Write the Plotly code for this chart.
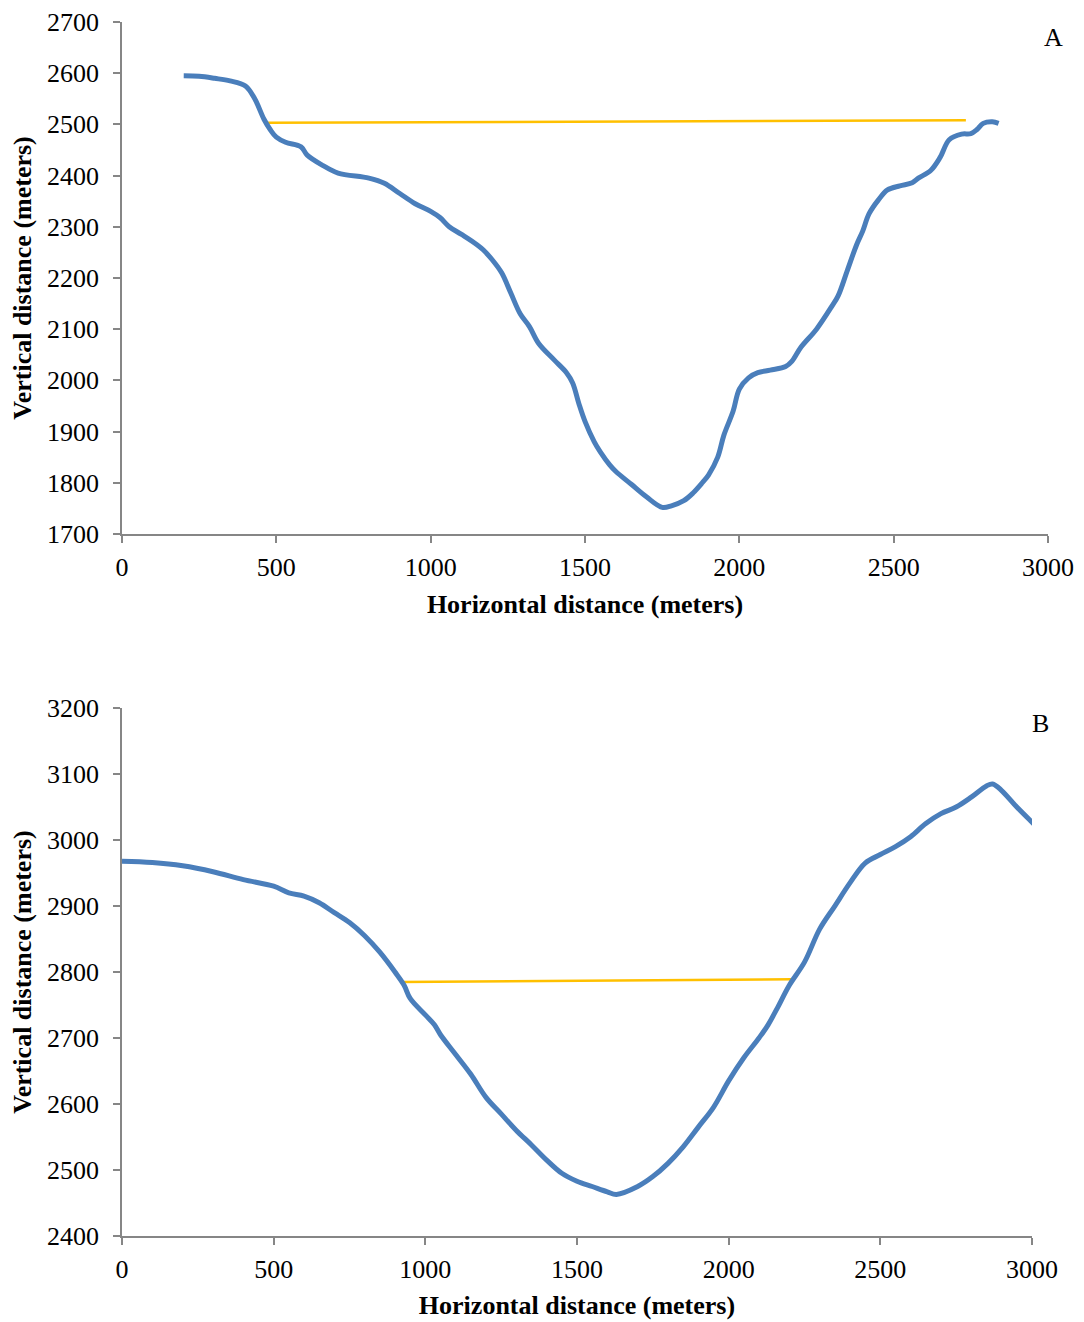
import plotly.graph_objects as go

# Panel A profile
a_x = [200, 250, 300, 350, 400, 430, 460, 480, 500, 530, 580, 600, 650, 700, 800, 850, 900, 950,
       1000, 1030, 1060, 1100, 1150, 1170, 1200, 1230, 1260, 1290, 1320, 1350, 1400, 1440, 1460,
       1480, 1500, 1530, 1550, 1580, 1600, 1650, 1700, 1750, 1780, 1820, 1850, 1880, 1900, 1930,
       1950, 1980, 2000, 2030, 2060, 2100, 2150, 2170, 2200, 2250, 2300, 2320, 2350, 2380, 2400,
       2420, 2450, 2480, 2520, 2560, 2580, 2620, 2650, 2680, 2720, 2750, 2770, 2790, 2820, 2840]
a_y = [2595, 2594, 2590, 2585, 2575, 2550, 2510, 2490, 2475, 2465, 2456, 2440, 2420, 2405, 2395,
       2385, 2365, 2345, 2330, 2318, 2300, 2285, 2265, 2255, 2235, 2210, 2170, 2130, 2105, 2072,
       2040, 2015, 1995, 1955, 1920, 1880, 1860, 1835, 1822, 1797, 1772, 1752, 1755, 1765, 1780,
       1800, 1815, 1850, 1893, 1940, 1983, 2005, 2015, 2020, 2027, 2037, 2065, 2100, 2145, 2165,
       2215, 2265, 2292, 2325, 2352, 2372, 2380, 2386, 2395, 2410, 2435, 2470, 2481, 2482, 2490,
       2502, 2505, 2502]
a_level_x = [473, 2734]
a_level_y = [2503, 2508]

# Panel B profile
b_x = [0, 100, 200, 300, 400, 500, 550, 600, 650, 700, 750, 800, 850, 900, 930, 950, 1000, 1030,
       1050, 1100, 1150, 1200, 1250, 1300, 1350, 1400, 1450, 1500, 1550, 1600, 1630, 1700, 1750,
       1800, 1850, 1900, 1950, 2000, 2050, 2100, 2130, 2160, 2200, 2250, 2300, 2350, 2400, 2450,
       2500, 2550, 2600, 2650, 2700, 2750, 2800, 2850, 2870, 2900, 2950, 3007]
b_y = [2968, 2966, 2961, 2952, 2940, 2930, 2920, 2915, 2905, 2890, 2875, 2855, 2830, 2800, 2780,
       2760, 2735, 2720, 2705, 2675, 2645, 2610, 2585, 2560, 2538, 2515, 2495, 2483, 2475, 2467,
       2463, 2475, 2490, 2510, 2535, 2565, 2595, 2635, 2670, 2700, 2720, 2745, 2780, 2815, 2865,
       2900, 2935, 2965, 2978, 2990, 3005, 3025, 3040, 3050, 3065, 3082, 3085, 3075, 3050, 3024]
b_level_x = [917, 2209]
b_level_y = [2785, 2789]

BLUE = "#4a7ebb"
ORANGE = "#ffc000"
GRAY = "#868686"
FONT = "Liberation Serif, Times New Roman, serif"

fig = go.Figure()
fig.add_trace(go.Scatter(x=a_level_x, y=a_level_y, mode="lines",
                         line=dict(color=ORANGE, width=2.5), xaxis="x", yaxis="y", showlegend=False))
fig.add_trace(go.Scatter(x=a_x, y=a_y, mode="lines", line=dict(color=BLUE, width=5, shape="spline", smoothing=1.0),
                         xaxis="x", yaxis="y", showlegend=False))
fig.add_trace(go.Scatter(x=b_level_x, y=b_level_y, mode="lines",
                         line=dict(color=ORANGE, width=2.5), xaxis="x2", yaxis="y2", showlegend=False))
fig.add_trace(go.Scatter(x=b_x, y=b_y, mode="lines", line=dict(color=BLUE, width=5, shape="spline", smoothing=1.0),
                         xaxis="x2", yaxis="y2", showlegend=False))

tick_font = dict(family=FONT, size=26, color="black")
title_font = dict(family=FONT, size=26, color="black")
axis_common = dict(showline=True, linecolor=GRAY, linewidth=1.5, ticks="outside", ticklen=7,
                   tickwidth=1.5, tickcolor=GRAY, showgrid=False, zeroline=False, automargin=False,
                   tickfont=tick_font)
x_common = dict(axis_common, ticklabelstandoff=2)
y_common = dict(axis_common, ticklabelstandoff=9)

# page body adds an 8px offset; margins compensate
fig.update_layout(
    width=1084, height=1322,
    font=dict(family=FONT, size=26, color="black"),
    paper_bgcolor="white", plot_bgcolor="white",
    margin=dict(l=114, r=44, t=14, b=94),
    xaxis=dict(domain=[0, 1], range=[0, 3000], dtick=500, anchor="y",
               title=dict(text="<b>Horizontal distance (meters)</b>", font=title_font, standoff=14),
               **x_common),
    yaxis=dict(domain=[0.5783, 1], range=[1700, 2700], dtick=100, anchor="x",
               title=dict(text="<b>Vertical distance (meters)</b>", font=title_font, standoff=10),
               **y_common),
    xaxis2=dict(domain=[0, 0.9827], range=[0, 3000], dtick=500, anchor="y2",
                title=dict(text="<b>Horizontal distance (meters)</b>", font=title_font, standoff=13),
                **x_common),
    yaxis2=dict(domain=[0, 0.4349], range=[2400, 3200], dtick=100, anchor="x2",
                title=dict(text="<b>Vertical distance (meters)</b>", font=title_font, standoff=10),
                **y_common),
    annotations=[
        dict(text="A", xref="paper", yref="paper", x=(1053 - 122) / 926, y=(1236 - 37) / 1214,
             xanchor="center", yanchor="middle",
             showarrow=False, font=dict(family=FONT, size=26, color="black")),
        dict(text="B", xref="paper", yref="paper", x=(1040 - 122) / 926, y=(1236 - 723) / 1214,
             xanchor="center", yanchor="middle",
             showarrow=False, font=dict(family=FONT, size=26, color="black")),
    ],
)

fig.write_html("out.html")
